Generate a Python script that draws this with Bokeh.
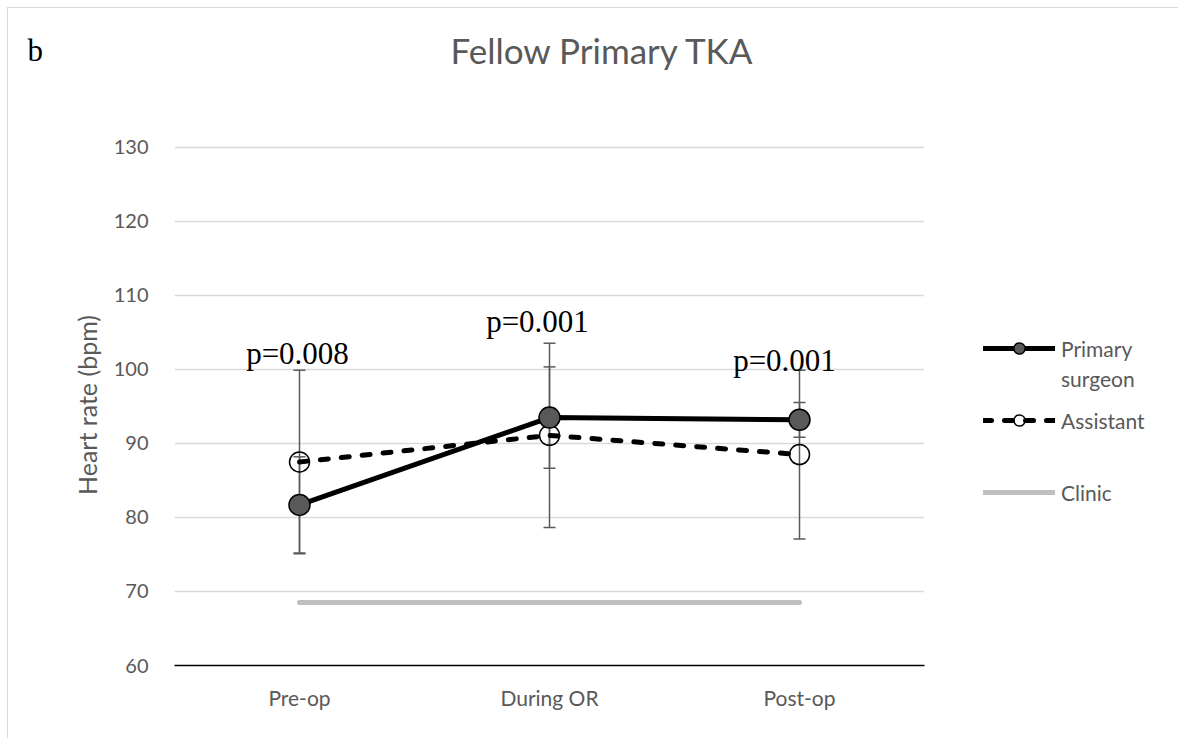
from bokeh.plotting import figure
from bokeh.layouts import column, row
from bokeh.models import (ColumnDataSource, Whisker, TeeHead, Label, Legend,
                          LegendItem, FactorRange, Range1d, FixedTicker)
from bokeh.core.properties import value
from bokeh.embed import file_html
from bokeh.resources import INLINE

# ---- data ----
categories = ["Pre-op", "During OR", "Post-op"]
primary_hr = [81.7, 93.5, 93.2]
primary_sd = [6.5, 6.85, 2.35]
assistant_hr = [87.5, 91.1, 88.5]
assistant_sd = [12.4, 12.45, 11.4]
clinic_hr = [68.5, 68.5, 68.5]
p_values = ["p=0.008", "p=0.001", "p=0.001"]
p_label_y = [102.2, 106.55, 101.15]
y_ticks = [60, 70, 80, 90, 100, 110, 120, 130]

GRAY_TEXT = "#595959"
TOTAL_W, TOTAL_H = 1170, 730
HEAD_H = 100
MAIN_W = 926
BODY_H = TOTAL_H - HEAD_H
LEG_W = TOTAL_W - MAIN_W


def bare(width, height):
    f = figure(width=width, height=height, x_range=Range1d(0, width),
               y_range=Range1d(height, 0), x_axis_type=None, y_axis_type=None,
               output_backend="svg", toolbar_location=None,
               min_border=0, min_border_left=0, min_border_right=0,
               min_border_top=0, min_border_bottom=0)
    f.outline_line_color = None
    f.background_fill_color = "white"
    f.border_fill_color = "white"
    return f


# ---- header: panel letter and title ----
head = bare(TOTAL_W, HEAD_H)
head.add_layout(Label(x=19, y=42, text="b", text_font="Liberation Serif",
                      text_font_size="31px", text_color="black",
                      text_align="left", text_baseline="alphabetic"))
head.add_layout(Label(x=442, y=41, text="Fellow Primary TKA", text_font="Lato",
                      text_font_size="35px", text_color=GRAY_TEXT,
                      text_align="left", text_baseline="alphabetic"))

# ---- main chart ----
p = figure(width=MAIN_W, height=BODY_H,
           x_range=FactorRange(factors=categories, range_padding=0),
           y_range=Range1d(60, 130.4),
           output_backend="svg", toolbar_location=None,
           min_border_left=166, min_border_right=10,
           min_border_top=36, min_border_bottom=73)
p.outline_line_color = None
p.background_fill_color = "white"
p.border_fill_color = "white"

p.xaxis.axis_line_color = "black"
p.xaxis.axis_line_width = 1.5
p.xaxis.major_tick_line_color = None
p.xaxis.minor_tick_line_color = None
p.xaxis.major_tick_out = 0
p.xaxis.major_tick_in = 0
p.xaxis.major_label_standoff = 19
p.xaxis.major_label_text_font = "Lato"
p.xaxis.major_label_text_font_size = "21px"
p.xaxis.major_label_text_color = GRAY_TEXT

p.yaxis.ticker = FixedTicker(ticks=y_ticks)
p.yaxis.axis_line_color = None
p.yaxis.major_tick_line_color = None
p.yaxis.minor_tick_line_color = None
p.yaxis.major_tick_out = 0
p.yaxis.major_tick_in = 0
p.yaxis.major_label_standoff = 26
p.yaxis.major_label_text_font = "Lato"
p.yaxis.major_label_text_font_size = "20px"
p.yaxis.major_label_text_color = GRAY_TEXT
p.yaxis.axis_label = "Heart rate (bpm)"
p.yaxis.axis_label_text_font = "Lato"
p.yaxis.axis_label_text_font_size = "25px"
p.yaxis.axis_label_text_font_style = "normal"
p.yaxis.axis_label_text_color = GRAY_TEXT
p.yaxis.axis_label_standoff = 9

p.xgrid.visible = False
p.ygrid.grid_line_color = "#d9d9d9"
p.ygrid.grid_line_width = 1.5

src = ColumnDataSource(dict(
    cat=categories,
    p_lo=[m - s for m, s in zip(primary_hr, primary_sd)],
    p_hi=[m + s for m, s in zip(primary_hr, primary_sd)],
    a_lo=[m - s for m, s in zip(assistant_hr, assistant_sd)],
    a_hi=[m + s for m, s in zip(assistant_hr, assistant_sd)],
))
EB = "#5a5a5a"
for lo, hi in (("a_lo", "a_hi"), ("p_lo", "p_hi")):
    p.add_layout(Whisker(source=src, base="cat", lower=lo, upper=hi,
                         line_color=EB, line_width=1.5,
                         upper_head=TeeHead(size=12, line_color=EB, line_width=1.5),
                         lower_head=TeeHead(size=12, line_color=EB, line_width=1.5)))

CLINIC_STYLE = dict(line_color="#bfbfbf", line_width=5, line_cap="round")
ASST_LINE = dict(line_color="black", line_width=5, line_dash="8 13", line_cap="round")
ASST_PTS = dict(marker="circle", fill_alpha=0, line_color="black", line_width=1.5)
PRIM_LINE = dict(line_color="black", line_width=5, line_cap="round")
PRIM_PTS = dict(marker="circle", fill_color="#595959", line_color="black", line_width=1.5)

p.line(categories, clinic_hr, **CLINIC_STYLE)
p.line(categories, assistant_hr, **ASST_LINE)
p.scatter(categories, assistant_hr, size=20, **ASST_PTS)
p.line(categories, primary_hr, **PRIM_LINE)
p.scatter(categories, primary_hr, size=21, **PRIM_PTS)

p_dx = [-2, -12, -15]
p_src = ColumnDataSource(dict(x=categories, y=p_label_y, t=p_values, dx=p_dx))
p.text(x="x", y="y", text="t", x_offset="dx", source=p_src,
       text_align="center", text_baseline="alphabetic",
       text_font=value("Liberation Serif"), text_font_size="31px",
       text_color="black")

# ---- legend panel (hidden copies of the series supply the legend glyphs) ----
lf = bare(LEG_W, BODY_H)
idx = list(range(len(categories)))
l_prim_line = lf.line(idx, primary_hr, visible=False, **PRIM_LINE)
l_prim_pts = lf.scatter(idx, primary_hr, size=11, visible=False, **PRIM_PTS)
l_asst_line = lf.line(idx, assistant_hr, visible=False, **ASST_LINE)
l_asst_pts = lf.scatter(idx, assistant_hr, size=11, visible=False, **ASST_PTS)
l_clinic = lf.line(idx, clinic_hr, visible=False, **CLINIC_STYLE)
l_blank = lf.line(idx, clinic_hr, visible=False, line_alpha=0)

leg_kw = dict(padding=0, margin=0, spacing=2, border_line_alpha=0,
              background_fill_alpha=0, glyph_width=72, glyph_height=28,
              label_height=28, label_standoff=6, label_text_font="Lato",
              label_text_font_size="21px", label_text_color=GRAY_TEXT,
              label_text_baseline="middle", inactive_fill_alpha=0,
              click_policy="none")
leg1 = Legend(items=[LegendItem(label="Primary", renderers=[l_prim_line, l_prim_pts]),
                     LegendItem(label="surgeon", renderers=[l_blank])],
              location=(49, 273), **leg_kw)
leg2 = Legend(items=[LegendItem(label="Assistant", renderers=[l_asst_line, l_asst_pts])],
              location=(49, 231), **leg_kw)
leg3 = Legend(items=[LegendItem(label="Clinic", renderers=[l_clinic])],
              location=(49, 159), **leg_kw)
for lg in (leg1, leg2, leg3):
    lf.add_layout(lg)

layout = column(head, row(p, lf, spacing=0), spacing=0)
layout.styles = {"margin-top": "7px", "margin-left": "7px",
                 "border-top": "1px solid #d9d9d9", "border-left": "1px solid #d9d9d9"}

open("out.html", "w").write(file_html(layout, INLINE))
